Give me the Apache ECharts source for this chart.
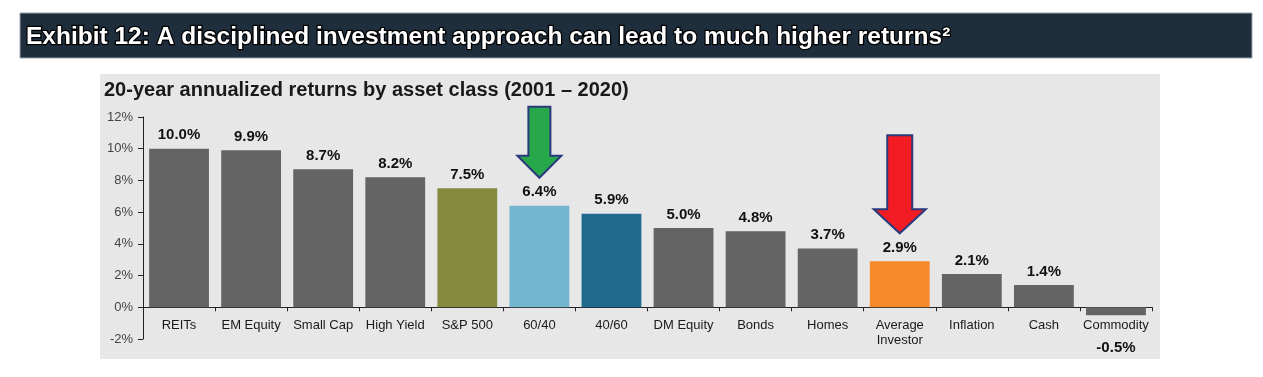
<!DOCTYPE html>
<html>
<head>
<meta charset="utf-8">
<script src="https://cdn.jsdelivr.net/npm/echarts@6/dist/echarts.min.js"></script>
<style>
html,body{margin:0;padding:0;background:#fff;}
#main{width:1263px;height:377px;}
</style>
</head>
<body>
<div id="main"></div>
<script>
// data
var categories=['REITs','EM Equity','Small Cap','High Yield','S&P 500','60/40','40/60','DM Equity','Bonds','Homes','Average\nInvestor','Inflation','Cash','Commodity']
var returns=[10.0,9.9,8.7,8.2,7.5,6.4,5.9,5.0,4.8,3.7,2.9,2.1,1.4,-0.5]
var barColors=['#646464','#646464','#646464','#646464','#868a3e','#74b5d0','#1f6a8c','#646464','#646464','#646464','#f58a2a','#646464','#646464','#646464']
var yTicks=[-2,0,2,4,6,8,10,12]

// arrows pointing at two bars
var arrows=[
    {cat:'60/40',len:71,headH:22,shaftW:22,headW:44,fill:'#27a84a'},
    {cat:'Average\nInvestor',len:98,headH:24,shaftW:25,headW:52,fill:'#f21c24'}
]

var myChart=echarts.init(document.getElementById('main'))

var barData=returns.map(function(v,i){
    return {
        value:v,
        itemStyle:{color:barColors[i]},
        label:v<0?{position:'bottom',distance:25}:{position:'top',distance:6}
    }
})

var option={
    backgroundColor:'#fff',
    animation:false,
    graphic:[
        {type:'rect',z:0,shape:{x:20,y:13,width:1232,height:45},style:{fill:'#1f2e3c',stroke:'#9aa3ab',lineWidth:1}},
        {type:'text',z:1,x:26,y:37,style:{text:'Exhibit 12: A disciplined investment approach can lead to much higher returns²',
            fill:'#fff',stroke:'#000',lineWidth:2.5,font:'bold 24.5px "Liberation Sans", Arial',verticalAlign:'middle'}},
        {type:'rect',z:0,shape:{x:100,y:74,width:1060,height:285},style:{fill:'#e7e7e7'}},
        {type:'text',z:1,x:104,y:90,style:{text:'20-year annualized returns by asset class (2001 – 2020)',
            fill:'#1a1a1a',font:'bold 20px "Liberation Sans", Arial',verticalAlign:'middle'}}
    ],
    grid:{left:143,right:111,top:117,bottom:38},
    xAxis:{
        type:'category',
        data:categories,
        axisLine:{onZero:true,lineStyle:{color:'#222',width:1}},
        axisTick:{show:true,length:4,interval:0,lineStyle:{color:'#222'}},
        // labels stay at the grid bottom, so pull them up under the zero line
        axisLabel:{interval:0,margin:-21,color:'#1a1a1a',fontSize:13,lineHeight:15,fontFamily:'"Liberation Sans", Arial'}
    },
    yAxis:{
        type:'value',
        min:yTicks[0],
        max:yTicks[yTicks.length-1],
        interval:2,
        axisLine:{show:true,lineStyle:{color:'#222'}},
        axisTick:{show:true,length:5,lineStyle:{color:'#222'}},
        axisLabel:{formatter:'{value}%',color:'#444',fontSize:13,margin:10,fontFamily:'"Liberation Sans", Arial'},
        splitLine:{show:false}
    },
    series:[{
        type:'bar',
        data:barData,
        barCategoryGap:'17%',
        label:{
            show:true,
            color:'#111',
            fontWeight:'bold',
            fontSize:15,
            fontFamily:'"Liberation Sans", Arial',
            formatter:function(p){return p.value.toFixed(1)+'%'}
        }
    }]
}
myChart.setOption(option)

// draw the arrows above their bars, placed through the axes
var extra=arrows.map(function(a){
    var i=categories.indexOf(a.cat)
    var top=myChart.convertToPixel({seriesIndex:0},[i,returns[i]])
    var cx=top[0],ty=top[1]-28
    var pts=[
        [cx-a.shaftW/2,ty-a.len],[cx+a.shaftW/2,ty-a.len],[cx+a.shaftW/2,ty-a.headH],
        [cx+a.headW/2,ty-a.headH],[cx,ty],[cx-a.headW/2,ty-a.headH],[cx-a.shaftW/2,ty-a.headH]
    ]
    return {type:'polygon',z:10,shape:{points:pts},style:{fill:a.fill,stroke:'#2b3a7c',lineWidth:2}}
})
myChart.setOption({graphic:option.graphic.concat(extra)})
</script>
</body>
</html>
